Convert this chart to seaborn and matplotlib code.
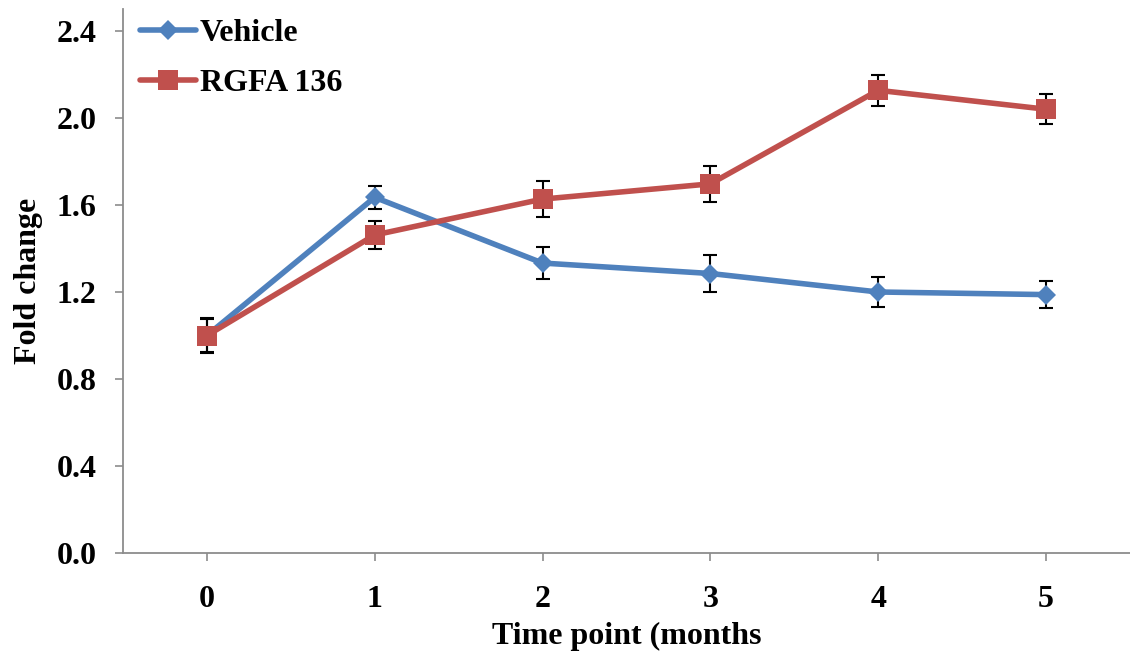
import numpy as np
import pandas as pd
import matplotlib
matplotlib.use("Agg")
import matplotlib.pyplot as plt
import seaborn as sns

# Fold change over time for each treatment group
months = [0, 1, 2, 3, 4, 5]
vehicle = [1.00, 1.635, 1.333, 1.285, 1.200, 1.188]
vehicle_err = [0.075, 0.052, 0.072, 0.083, 0.071, 0.063]
rgfa = [1.00, 1.462, 1.627, 1.697, 2.127, 2.040]
rgfa_err = [0.080, 0.064, 0.082, 0.082, 0.070, 0.069]
groups = ["Vehicle", "RGFA 136"]
y_ticks = [0.0, 0.4, 0.8, 1.2, 1.6, 2.0, 2.4]

sns.set_theme(style="white")
plt.rcParams["font.family"] = ["Liberation Serif", "DejaVu Serif"]
plt.rcParams["font.weight"] = "bold"
plt.rcParams["text.color"] = "black"
plt.rcParams["axes.labelcolor"] = "black"
plt.rcParams["xtick.color"] = "black"
plt.rcParams["ytick.color"] = "black"

FS = 23

df = pd.DataFrame({
    "month": months * 2,
    "fold": vehicle + rgfa,
    "err": vehicle_err + rgfa_err,
    "group": [groups[0]] * len(months) + [groups[1]] * len(months),
})

colors = {"Vehicle": "#4F81BD", "RGFA 136": "#C0504D"}
markers = {"Vehicle": "D", "RGFA 136": "s"}
msize = {"Vehicle": 10.5, "RGFA 136": 14.5}

fig = plt.figure(figsize=(11.3, 6.53), dpi=100)
ax = fig.add_axes([0.1088, 0.153, 0.8912, 0.833])

for i, g in enumerate(groups):
    sub = df[df["group"] == g]
    ax.errorbar(sub["month"], sub["fold"], yerr=sub["err"], fmt="none",
                ecolor="black", elinewidth=1.5, capsize=5, capthick=1.5,
                zorder=2 + i * 2)
    sns.lineplot(data=sub, x="month", y="fold", ax=ax, color=colors[g],
                 marker=markers[g], markersize=msize[g], markeredgewidth=0,
                 linewidth=4.0, label=g, zorder=3 + i * 2, errorbar=None)

ax.set_xlim(-0.5, 5.5)
ax.set_ylim(0, 2.5)
ax.set_xticks(months)
ax.set_xticklabels([str(m) for m in months])
ax.set_yticks(y_ticks)
ax.set_yticklabels([f"{v:.1f}" for v in y_ticks])

for s in ["top", "right"]:
    ax.spines[s].set_visible(False)
for s in ["left", "bottom"]:
    ax.spines[s].set_color("#8c8c8c")
    ax.spines[s].set_linewidth(1.3)

ax.tick_params(axis="both", which="major", direction="out", length=6,
               width=1.2, color="#8c8c8c", labelsize=FS, labelcolor="black",
               bottom=True, left=True)
ax.tick_params(axis="x", pad=17)
ax.tick_params(axis="y", pad=13)
for lab in ax.get_xticklabels() + ax.get_yticklabels():
    lab.set_fontweight("bold")

ax.set_xlabel("Time point (months", fontsize=FS, fontweight="bold",
              labelpad=6, color="black")
ax.set_ylabel("Fold change", fontsize=FS, fontweight="bold", labelpad=10,
              color="black")

leg = ax.legend(loc="upper left", bbox_to_anchor=(0.017, 0.983), frameon=False,
                prop={"size": FS, "weight": "bold"}, handlelength=1.75,
                handletextpad=0.12, labelspacing=0.66, borderaxespad=0.0,
                borderpad=0.0)

fig.savefig("out.png", dpi=100, facecolor="white")
